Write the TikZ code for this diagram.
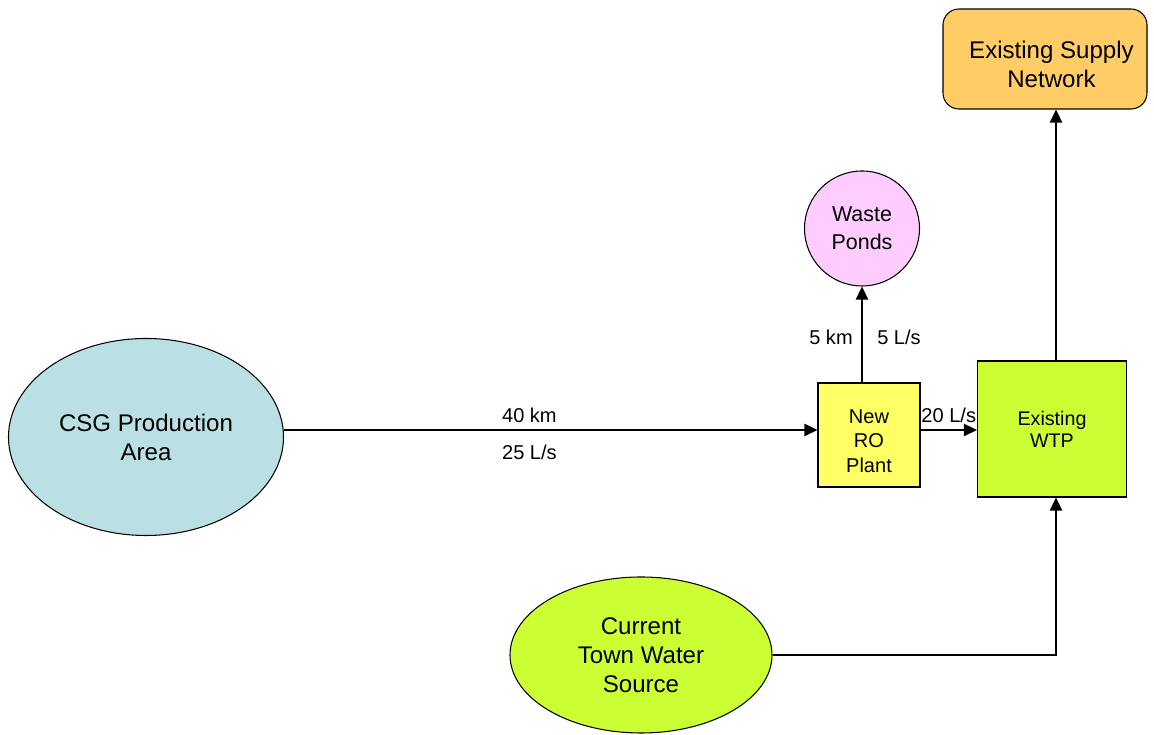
\documentclass[tikz,border=0pt]{standalone}
\usepackage{fontspec}
\setmainfont{Liberation Sans}
\usetikzlibrary{arrows.meta,calc,positioning,shapes.geometric}
\definecolor{csgblue}{RGB}{187,224,227}
\definecolor{roylw}{RGB}{255,255,102}
\definecolor{wtpgrn}{RGB}{204,255,51}
\definecolor{pondpink}{RGB}{255,204,255}
\definecolor{netorange}{RGB}{255,204,102}

\begin{document}
\begin{tikzpicture}[>={Triangle[length=7.5pt,width=7pt]},line width=1.1pt,align=center,
	blk/.style={draw,line width=0.6pt,inner sep=0pt},
	big/.style={font=\fontsize{13.7}{16.4}\selectfont},
	small/.style={font=\fontsize{11.4}{13.8}\selectfont}]
	\useasboundingbox (0,0) rectangle (23.08,14.7);
	\node[blk,big,ellipse,fill=csgblue,minimum width=5.5cm,minimum height=3.94cm] (csg) at (2.92,5.96) {CSG Production\\Area};
	\node[blk,fill=roylw,minimum width=2.04cm,minimum height=2.08cm,
		label={[small,align=center,yshift=-0.12cm]center:New\\RO\\Plant}] (ro) at (17.38,6.0) {};
	\node[blk,fill=wtpgrn,minimum width=2.98cm,minimum height=2.72cm,font=\fontsize{11.2}{12.5}\selectfont] (wtp) at (21.04,6.12) {Existing\\WTP};
	\node[blk,circle,fill=pondpink,minimum size=2.3cm,font=\fontsize{12.2}{15.9}\selectfont] (ponds) at (17.24,10.13) {Waste\\Ponds};
	\node[blk,rounded corners=0.32cm,fill=netorange,minimum width=4.08cm,minimum height=2.0cm,
		label={[big,align=center,xshift=0.13cm,yshift=-0.1cm]center:Existing Supply\\Network}] (net) at (20.9,13.52) {};
	\node[blk,big,ellipse,fill=wtpgrn,minimum width=5.24cm,minimum height=3.12cm] (town) at (12.82,1.6) {Current\\Town Water\\Source};
	\coordinate (roin) at ([yshift=0.1cm]ro.west);
	\coordinate (wtpx) at (21.12,0);
	\draw[->] (roin -| csg.east) -- (roin)
		node[small,pos=0.46,yshift=0.3cm] {40 km}
		node[small,pos=0.46,yshift=-0.44cm] {25 L/s};
	\draw[->] (roin -| ro.east) -- (roin -| wtp.west)
		node[small,midway,yshift=0.3cm] {20 L/s};
	\draw[->] (ro.north -| ponds) -- (ponds.south)
		node[small,pos=0.47,xshift=-0.62cm] {5 km}
		node[small,pos=0.47,xshift=0.74cm] {5 L/s};
	\draw[->] (wtp.north -| wtpx) -- (net.south -| wtpx);
	\draw[->] (town.east) -| (wtp.south -| wtpx);
\end{tikzpicture}
\end{document}
